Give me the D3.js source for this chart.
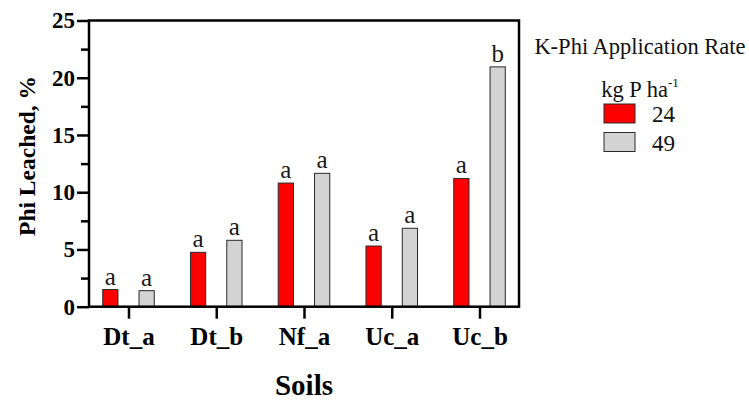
<!DOCTYPE html>
<html>
<head>
<meta charset="utf-8">
<script src="https://cdn.jsdelivr.net/npm/d3@7"></script>
<style>
  body { margin: 0; background: #fff; }
</style>
</head>
<body>
<svg></svg>
<script>
const [svgWidth, svgHeight] = [749, 401];
const serif = '"Liberation Serif", "Times New Roman", serif';
const svg = d3.select('svg')
  .attr('width', svgWidth)
  .attr('height', svgHeight)
  .style('font-family', serif);

// data
const soils = ['Dt_a', 'Dt_b', 'Nf_a', 'Uc_a', 'Uc_b'];
const rates = ['24', '49'];
const rate24 = [1.5, 4.75, 10.8, 5.3, 11.2];
const rate49 = [1.4, 5.8, 11.65, 6.85, 20.95];
const letters24 = ['a', 'a', 'a', 'a', 'a'];
const letters49 = ['a', 'a', 'a', 'a', 'b'];
const yTicks = [0, 5, 10, 15, 20, 25];
const colors = ['#ff0000', '#d3d3d3'];

const plot = {left: 89, right: 519, top: 20.5, bottom: 306.7};

const x = d3.scalePoint()
  .domain(soils)
  .range([plot.left, plot.right])
  .padding(0.45);
const y = d3.scaleLinear()
  .domain([0, 25])
  .range([plot.bottom, plot.top]);
const offset = d3.scaleBand()
  .domain(rates)
  .range([-26.5, 26.5])
  .paddingInner(0.58)
  .paddingOuter(0.02);

const series = rates.map((r, k) => ({
  rate: r,
  values: k === 0 ? rate24 : rate49,
  letters: k === 0 ? letters24 : letters49,
  color: colors[k]
}));

const bars = svg.append('g');
series.forEach(s => {
  const g = bars.append('g');
  g.selectAll('rect')
    .data(soils)
    .enter()
    .append('rect')
    .attr('x', d => x(d) + offset(s.rate))
    .attr('y', (d, i) => y(s.values[i]))
    .attr('width', offset.bandwidth())
    .attr('height', (d, i) => y(0) - y(s.values[i]))
    .attr('fill', s.color)
    .attr('stroke', '#2a2a2a')
    .attr('stroke-width', 1);
  g.selectAll('text')
    .data(soils)
    .enter()
    .append('text')
    .attr('x', d => x(d) + offset(s.rate) + offset.bandwidth() / 2)
    .attr('y', (d, i) => y(s.values[i]) - 5)
    .attr('text-anchor', 'middle')
    .style('font-family', serif)
    .attr('font-size', 25)
    .attr('fill', '#1a1a1a')
    .text((d, i) => s.letters[i]);
});

// frame
svg.append('rect')
  .attr('x', plot.left)
  .attr('y', plot.top)
  .attr('width', plot.right - plot.left)
  .attr('height', plot.bottom - plot.top)
  .attr('fill', 'none')
  .attr('stroke', '#000')
  .attr('stroke-width', 2.5);

// y axis, minor ticks then major ticks
const yMinor = svg.append('g')
  .attr('transform', `translate(${plot.left}, 0)`)
  .call(d3.axisLeft(y).tickValues(d3.range(2.5, 25, 5)).tickSize(8).tickFormat(''));
yMinor.select('.domain').remove();
yMinor.selectAll('line').attr('stroke-width', 2.5);

const yMajor = svg.append('g')
  .attr('transform', `translate(${plot.left}, 0)`)
  .call(d3.axisLeft(y).tickValues(yTicks).tickSize(12).tickPadding(2));
yMajor.select('.domain').remove();
yMajor.selectAll('line').attr('stroke-width', 2.5);
yMajor.selectAll('text')
  .style('font-family', serif)
  .attr('font-size', 23)
  .attr('font-weight', 'bold')
  .attr('fill', '#000');

// x axis
const xAxis = svg.append('g')
  .attr('transform', `translate(0, ${plot.bottom})`)
  .call(d3.axisBottom(x).tickSize(12).tickPadding(9));
xAxis.select('.domain').remove();
xAxis.selectAll('line').attr('stroke-width', 2.5);
xAxis.selectAll('text')
  .style('font-family', serif)
  .attr('font-size', 25)
  .attr('font-weight', 'bold')
  .attr('fill', '#000');

svg.append('text')
  .attr('x', (plot.left + plot.right) / 2)
  .attr('y', 395)
  .attr('text-anchor', 'middle')
  .style('font-family', serif)
  .attr('font-size', 29)
  .attr('font-weight', 'bold')
  .text('Soils');

svg.append('text')
  .attr('transform', 'translate(35, 156) rotate(-90)')
  .attr('text-anchor', 'middle')
  .style('font-family', serif)
  .attr('font-size', 23.5)
  .attr('font-weight', 'bold')
  .text('Phi Leached, %');

// legend
const legend = svg.append('g');
legend.append('text')
  .attr('x', 640)
  .attr('y', 54)
  .attr('text-anchor', 'middle')
  .style('font-family', serif)
  .attr('font-size', 22.5)
  .attr('fill', '#111')
  .text('K-Phi Application Rate');
const unit = legend.append('text')
  .attr('x', 640)
  .attr('y', 97)
  .attr('text-anchor', 'middle')
  .style('font-family', serif)
  .attr('font-size', 22.5)
  .attr('fill', '#111');
unit.append('tspan').text('kg P ha');
unit.append('tspan').attr('dy', -10).attr('font-size', 13).text('-1');

const item = legend.selectAll('g.item')
  .data(series)
  .enter()
  .append('g')
  .attr('class', 'item')
  .attr('transform', (d, i) => `translate(604, ${104 + i * 28.5})`);
item.append('rect')
  .attr('width', 31)
  .attr('height', 19)
  .attr('fill', d => d.color)
  .attr('stroke', '#2a2a2a')
  .attr('stroke-width', 1);
item.append('text')
  .attr('x', 48)
  .attr('y', 18)
  .style('font-family', serif)
  .attr('font-size', 23)
  .attr('fill', '#111')
  .text(d => d.rate);
</script>
</body>
</html>
